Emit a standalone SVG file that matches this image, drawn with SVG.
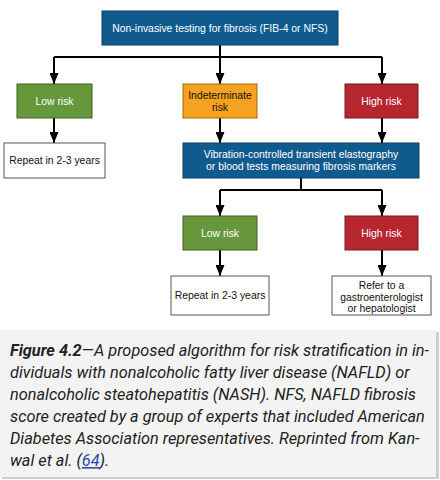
<svg xmlns="http://www.w3.org/2000/svg" width="440" height="480" viewBox="0 0 440 480">
<defs>
<marker id="ah" viewBox="0 0 10 10" refX="10" refY="5" markerWidth="5.5" markerHeight="4.5" preserveAspectRatio="none" orient="auto" markerUnits="strokeWidth">
<path d="M0,0 L10,5 L0,10 Z" fill="#000"/>
</marker>
<style>
.lbl{font-family:"Liberation Sans",Arial,sans-serif;font-size:10.4px;text-anchor:middle}
.w{fill:#fff}
.k{fill:#111}
.blue{fill:#105b8e;stroke:#0b3f63;stroke-width:1}
.green{fill:#66973a;stroke:#3f6322;stroke-width:1}
.orange{fill:#f5a220;stroke:#a86a10;stroke-width:1}
.red{fill:#b5262e;stroke:#7a141a;stroke-width:1}
.white{fill:#fff;stroke:#555;stroke-width:1}
.con{fill:none;stroke:#000;stroke-width:2}
.cap{font-family:Roboto,"Liberation Sans",sans-serif;font-size:16.3px;font-style:italic;fill:#222}
</style>
</defs>
<rect width="440" height="480" fill="#fff"/>

<g id="connectors">
<path class="con" d="M220,45 V57 M54,57 H382"/>
<path class="con" d="M54,57 V84" marker-end="url(#ah)"/>
<path class="con" d="M220,57 V84" marker-end="url(#ah)"/>
<path class="con" d="M382,57 V84" marker-end="url(#ah)"/>
<path class="con" d="M54,118 V143" marker-end="url(#ah)"/>
<path class="con" d="M220,118 V143" marker-end="url(#ah)"/>
<path class="con" d="M382,118 V143" marker-end="url(#ah)"/>
<path class="con" d="M301,178 V190 M220,190 H382"/>
<path class="con" d="M220,190 V216" marker-end="url(#ah)"/>
<path class="con" d="M382,190 V216" marker-end="url(#ah)"/>
<path class="con" d="M220,250 V276" marker-end="url(#ah)"/>
<path class="con" d="M382,250 V276" marker-end="url(#ah)"/>
</g>

<g id="n-top"><rect class="blue" x="102" y="11" width="236" height="34"/><text class="lbl w" x="220" y="31.5">Non-invasive testing for fibrosis (FIB-4 or NFS)</text></g>
<g id="n-low1"><rect class="green" x="17" y="84" width="75" height="34"/><text class="lbl w" x="54.5" y="104.5">Low risk</text></g>
<g id="n-indet"><rect class="orange" x="183" y="84" width="74" height="34"/><text class="lbl k" x="220" y="99">Indeterminate</text><text class="lbl k" x="220" y="110.5">risk</text></g>
<g id="n-high1"><rect class="red" x="345" y="84" width="73" height="34"/><text class="lbl w" x="381.5" y="104.5">High risk</text></g>
<g id="n-repeat1"><rect class="white" x="4" y="143" width="101" height="35"/><text class="lbl k" x="54.5" y="164">Repeat in 2-3 years</text></g>
<g id="n-vcte"><rect class="blue" x="183" y="143" width="236" height="35"/><text class="lbl w" x="301" y="158">Vibration-controlled transient elastography</text><text class="lbl w" x="301" y="170">or blood tests measuring fibrosis markers</text></g>
<g id="n-low2"><rect class="green" x="183" y="216" width="74" height="34"/><text class="lbl w" x="220" y="236.5">Low risk</text></g>
<g id="n-high2"><rect class="red" x="345" y="216" width="73" height="34"/><text class="lbl w" x="381.5" y="236.5">High risk</text></g>
<g id="n-repeat2"><rect class="white" x="171" y="276" width="98" height="39"/><text class="lbl k" x="220" y="299">Repeat in 2-3 years</text></g>
<g id="n-refer"><rect class="white" x="332" y="276" width="99" height="39"/><text class="lbl k" x="381.5" y="289">Refer to a</text><text class="lbl k" x="381.5" y="300.5">gastroenterologist</text><text class="lbl k" x="381.5" y="312">or hepatologist</text></g>

<g id="caption">
<rect x="2" y="332" width="437" height="147" fill="#cfcfcf"/>
<rect x="0" y="330" width="436" height="147" fill="#f3f3f3"/>
<text class="cap" x="10" y="356"><tspan font-weight="bold">Figure 4.2</tspan>—A proposed algorithm for risk stratification in in-</text>
<text class="cap" x="10" y="378">dividuals with nonalcoholic fatty liver disease (NAFLD) or</text>
<text class="cap" x="10" y="400">nonalcoholic steatohepatitis (NASH). NFS, NAFLD fibrosis</text>
<text class="cap" x="10" y="422">score created by a group of experts that included American</text>
<text class="cap" x="10" y="444">Diabetes Association representatives. Reprinted from Kan-</text>
<text class="cap" x="10" y="466">wal et al. (<tspan fill="#2b4ea8" text-decoration="underline">64</tspan>).</text>
</g>
</svg>
